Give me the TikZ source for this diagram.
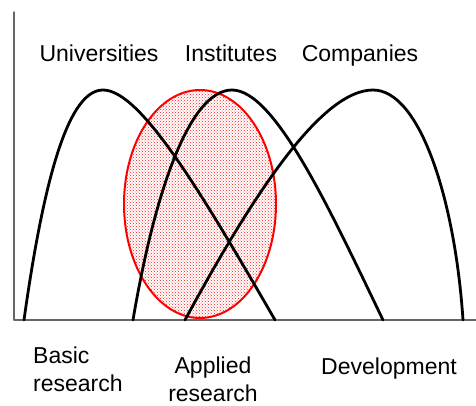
\documentclass[tikz,border=0pt]{standalone}
\usepackage{fontspec}
\setmainfont{Liberation Sans}
\usetikzlibrary{patterns}
\begin{document}
\begin{tikzpicture}[x=1pt, y=-1pt, line join=round, line cap=round,
		font=\fontsize{23}{28}\selectfont]
	\useasboundingbox (0,0) rectangle (476,405);
	% overlap zone
	\draw[red, line width=2pt, pattern=crosshatch dots, pattern color=red!90] (200,204) ellipse (76 and 114);
	% axes
	\draw[gray!80!black, line width=1.5pt] (14,12)--(14,320)--(476,320);
	% the three curves
	\draw[line width=2.8pt] (24,320) .. controls (45,170) and (70,90) .. (103,90)
		.. controls (140,90) and (200,190) .. (275,320);
	\draw[line width=2.8pt] (133,320) .. controls (155,190) and (190,90) .. (232,90)
		.. controls (275,90) and (330,210) .. (383,320);
	\draw[line width=2.8pt] (185,320) .. controls (250,200) and (320,90) .. (373,90)
		.. controls (420,90) and (455,200) .. (463,320);
	% labels
	\node (univ) at (99,61)[anchor=base]{Universities};
	\node (inst) at (231,61)[anchor=base]{Institutes};
	\node (comp) at (360,61)[anchor=base]{Companies};
	\node (basic) at (33,347)[anchor=north west, inner sep=0pt, align=left]{Basic\\research};
	\node (appl) at (213,357)[anchor=north, inner sep=0pt, align=center]{Applied\\research};
	\node (dev) at (389,374)[anchor=base]{Development};
\end{tikzpicture}
\end{document}
